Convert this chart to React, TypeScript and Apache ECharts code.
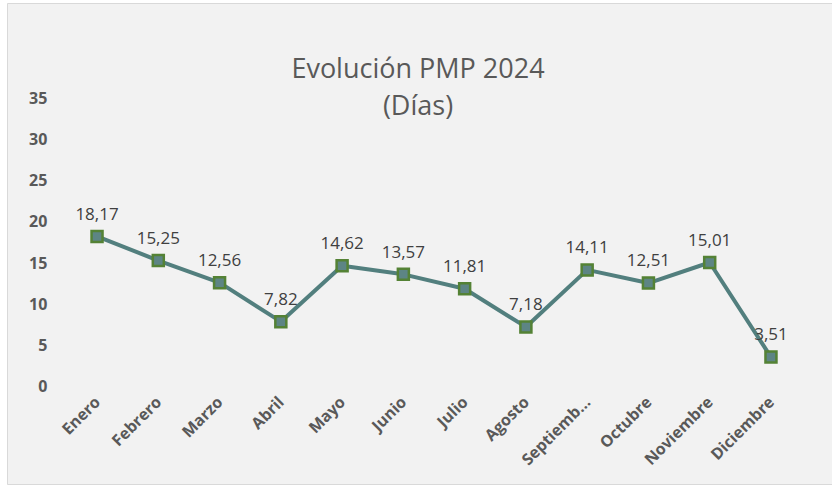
import React, { useEffect, useRef } from "react";
import * as echarts from "echarts";

const months = [
  "Enero",
  "Febrero",
  "Marzo",
  "Abril",
  "Mayo",
  "Junio",
  "Julio",
  "Agosto",
  "Septiembre",
  "Octubre",
  "Noviembre",
  "Diciembre",
];
const pmpDays = [18.17, 15.25, 12.56, 7.82, 14.62, 13.57, 11.81, 7.18, 14.11, 12.51, 15.01, 3.51];
const titleText = "Evolución PMP 2024\n(Días)";
const yTicks = { min: 0, max: 35, interval: 5 };

export default function App() {
  const ref = useRef<HTMLDivElement>(null);
  useEffect(() => {
    if (!ref.current) return;
    const chart = echarts.init(ref.current, null, { renderer: "svg" });
    const font = "'Open Sans', 'Noto Sans', sans-serif";
    chart.setOption({
      animation: false,
      backgroundColor: "#ffffff",
      graphic: [
        {
          type: "rect",
          z: -10,
          silent: true,
          shape: { x: 7.5, y: 3.5, width: 840, height: 481 },
          style: { fill: "#f2f2f2", stroke: "#d9d9d9", lineWidth: 1 },
        },
      ],
      title: {
        text: titleText,
        left: 413,
        top: 44,
        textAlign: "center",
        textStyle: {
          fontFamily: font,
          fontSize: 27,
          fontWeight: "normal",
          color: "#595959",
          lineHeight: 37,
        },
      },
      grid: { left: 66.4, right: 30.4, top: 98, bottom: 101, containLabel: false },
      xAxis: {
        type: "category",
        data: months,
        boundaryGap: true,
        axisLine: { show: false },
        axisTick: { show: false },
        axisLabel: {
          interval: 0,
          rotate: 45,
          margin: 13,
          fontFamily: font,
          fontSize: 16,
          fontWeight: "bold",
          color: "#595959",
          formatter: (v: string) => (v.length > 9 ? v.slice(0, 8) + "..." : v),
        },
      },
      yAxis: {
        type: "value",
        min: yTicks.min,
        max: yTicks.max,
        interval: yTicks.interval,
        axisLine: { show: false },
        axisTick: { show: false },
        splitLine: { show: false },
        axisLabel: {
          margin: 19,
          fontFamily: font,
          fontSize: 16,
          fontWeight: "bold",
          color: "#595959",
        },
      },
      series: [
        {
          type: "line",
          data: pmpDays,
          symbol: "rect",
          symbolSize: 11,
          lineStyle: { color: "#527f7e", width: 4 },
          itemStyle: { color: "#5d8584", borderColor: "#548235", borderWidth: 2.5 },
          label: {
            show: true,
            position: "top",
            distance: 8,
            fontFamily: font,
            fontSize: 17,
            color: "#404040",
            formatter: (p: any) => String(p.value.toFixed(2)).replace(".", ","),
          },
        },
      ],
    });
    return () => chart.dispose();
  }, []);
  return (
    <div
      ref={ref}
      style={{ position: "fixed", left: 0, top: 0, width: 832, height: 487 }}
    />
  );
}
